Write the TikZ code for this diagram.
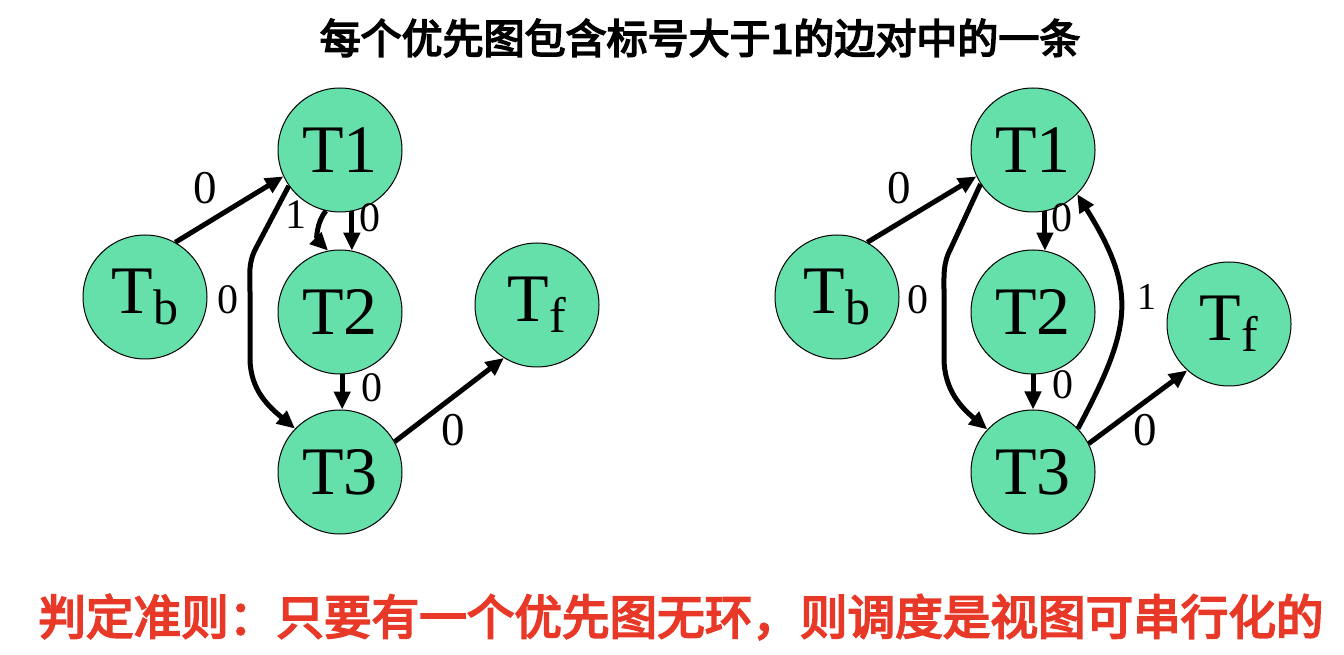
\documentclass[tikz,border=0pt]{standalone}
\usepackage{fontspec}
\setmainfont{Liberation Serif}
\newfontfamily\cjk[FakeBold=4]{Noto Sans CJK SC}
\usetikzlibrary{arrows.meta}
\definecolor{nodegreen}{RGB}{102,224,170}
\definecolor{rulered}{RGB}{232,56,40}
\tikzset{
  tnode/.style={circle, draw=black, line width=0.5pt, fill=nodegreen, minimum size=62pt, inner sep=0pt, font=\fontsize{34}{34}\selectfont},
  arr/.style={line width=2.5pt, -{Triangle[length=9pt,width=8pt]}},
  lbl/.style={font=\fontsize{21}{21}\selectfont, inner sep=0pt},
  lblbig/.style={font=\fontsize{23.5}{23.5}\selectfont, inner sep=0pt},
  lblsmall/.style={font=\fontsize{19}{19}\selectfont, inner sep=0pt}
}
\newcommand{\subl}[1]{\raisebox{-5.5pt}{\fontsize{25}{25}\selectfont #1}}
\begin{document}
\begin{tikzpicture}[x=0.5pt,y=0.5pt]
\useasboundingbox (0,0) rectangle (1344,654);
% title
\node[font=\cjk\fontsize{20.5}{20.5}\selectfont, inner sep=0pt] (title) at (700,616) {每个优先图包含标号大于1的边对中的一条};
% left graph
\node[tnode] (T1) at (340,504) {T1};
\node[tnode] (Tb) at (145,357) {T\subl{b}};
\node[tnode] (T2) at (340,342) {T2};
\node[tnode] (Tf) at (537,349) {T\subl{f}};
\node[tnode] (T3) at (340,182) {T3};
\draw[arr] (Tb.61) -- (T1.205);
\draw[arr] (T1.-79) -- (T2.79);
\draw[arr] (T1.257) to[out=230,in=135] (T2.101);
\draw[arr] (T1.215) -- (256,406) to[out=242,in=90] (250,362) -- (250,296) to[out=-90,in=140] (T3.136);
\draw[arr] (T2.-88) -- (T3.88);
\draw[arr] (T3.29) -- (Tf.238);
\node[lblbig] (l1) at (205,466) {0};
\node[lbl] (l2) at (296,439) {1};
\node[lbl] (l3) at (370,436) {0};
\node[lbl] (l4) at (228,354) {0};
\node[lbl] (l5) at (372,266) {0};
\node[lblbig] (l6) at (453,224) {0};
% right graph
\node[tnode] (R1) at (1033,504) {T1};
\node[tnode] (Rb) at (837,357) {T\subl{b}};
\node[tnode] (R2) at (1033,342) {T2};
\node[tnode] (Rf) at (1229,330) {T\subl{f}};
\node[tnode] (R3) at (1033,182) {T3};
\draw[arr] (Rb.61) -- (R1.205);
\draw[arr] (R1.-79) -- (R2.79);
\draw[arr] (R1.213) -- (951,406) to[out=242,in=90] (944,362) -- (944,296) to[out=-90,in=140] (R3.137);
\draw[arr] (R2.-90) -- (R3.90);
\draw[arr] (R3.44) to[out=62,in=-58,looseness=1.25] (R1.-45);
\draw[arr] (R3.27) -- (Rf.228);
\node[lblbig] (r1) at (899,466) {0};
\node[lbl] (r3) at (1062,436) {0};
\node[lbl] (r4) at (918,354) {0};
\node[lbl] (r5) at (1063,269) {0};
\node[lblsmall] (r6) at (1147,357) {1};
\node[lblbig] (r7) at (1145,224) {0};
% rule
\node[font=\cjk\fontsize{23.8}{23.8}\selectfont, text=rulered, inner sep=0pt] (rule) at (681,37) {判定准则：只要有一个优先图无环，则调度是视图可串行化的};
\end{tikzpicture}
\end{document}
